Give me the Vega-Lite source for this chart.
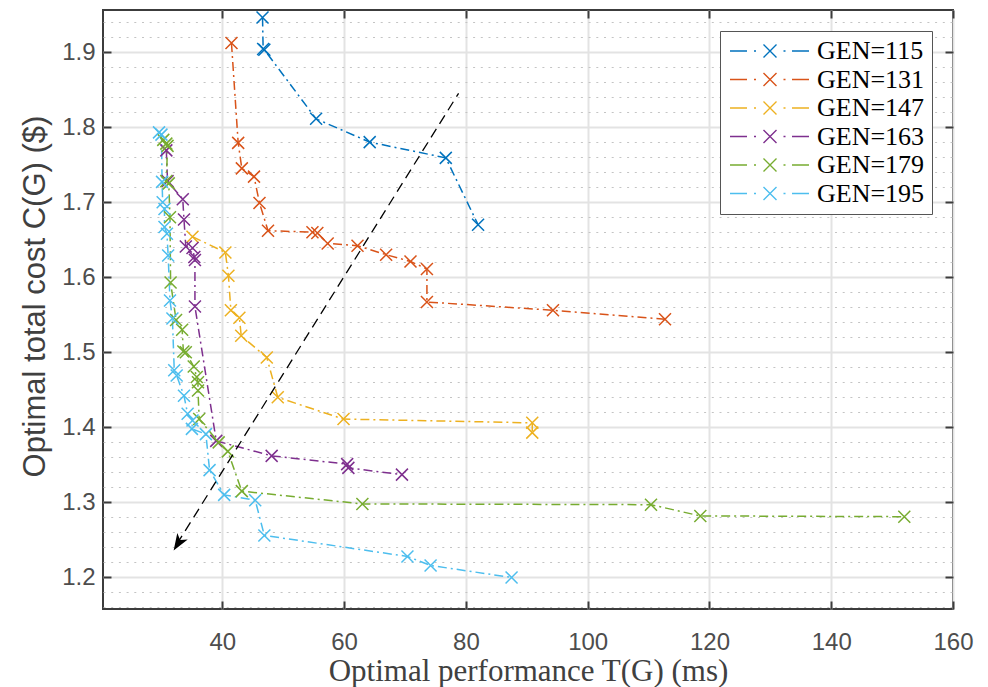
{
  "$schema": "https://vega.github.io/schema/vega-lite/v6.json",
  "width": 850,
  "height": 599,
  "autosize": {"type": "none"},
  "padding": {"left": 103, "top": 10, "right": 35, "bottom": 78},
  "background": "white",
  "config": {
    "view": {"stroke": "#3c3c3c", "strokeWidth": 2},
    "axis": {
      "labelFont": "Liberation Sans",
      "labelFontSize": 24,
      "labelColor": "#4d4d4d",
      "titleColor": "#404040",
      "titleFontWeight": "normal",
      "domain": false,
      "tickColor": "#3c3c3c",
      "tickWidth": 2,
      "tickSize": -8,
      "gridColor": "#e3e3e3",
      "gridWidth": 2,
      "labelFlush": false,
      "labelOverlap": false
    }
  },
  "datasets": {
    "series": [
      {"gen": "GEN=115", "i": 1, "x": 46.6, "y": 1.946},
      {"gen": "GEN=115", "i": 2, "x": 46.7, "y": 1.904},
      {"gen": "GEN=115", "i": 3, "x": 46.9, "y": 1.903},
      {"gen": "GEN=115", "i": 4, "x": 55.4, "y": 1.811},
      {"gen": "GEN=115", "i": 5, "x": 64.2, "y": 1.780},
      {"gen": "GEN=115", "i": 6, "x": 76.7, "y": 1.759},
      {"gen": "GEN=115", "i": 7, "x": 82.0, "y": 1.670},

      {"gen": "GEN=131", "i": 1, "x": 41.5, "y": 1.912},
      {"gen": "GEN=131", "i": 2, "x": 42.6, "y": 1.779},
      {"gen": "GEN=131", "i": 3, "x": 43.2, "y": 1.745},
      {"gen": "GEN=131", "i": 4, "x": 45.2, "y": 1.734},
      {"gen": "GEN=131", "i": 5, "x": 46.1, "y": 1.699},
      {"gen": "GEN=131", "i": 6, "x": 47.5, "y": 1.662},
      {"gen": "GEN=131", "i": 7, "x": 54.8, "y": 1.660},
      {"gen": "GEN=131", "i": 8, "x": 55.6, "y": 1.659},
      {"gen": "GEN=131", "i": 9, "x": 57.3, "y": 1.645},
      {"gen": "GEN=131", "i": 10, "x": 62.2, "y": 1.642},
      {"gen": "GEN=131", "i": 11, "x": 66.9, "y": 1.630},
      {"gen": "GEN=131", "i": 12, "x": 70.9, "y": 1.621},
      {"gen": "GEN=131", "i": 13, "x": 73.6, "y": 1.611},
      {"gen": "GEN=131", "i": 14, "x": 73.6, "y": 1.567},
      {"gen": "GEN=131", "i": 15, "x": 94.3, "y": 1.556},
      {"gen": "GEN=131", "i": 16, "x": 112.7, "y": 1.544},

      {"gen": "GEN=147", "i": 1, "x": 35.1, "y": 1.654},
      {"gen": "GEN=147", "i": 2, "x": 40.5, "y": 1.633},
      {"gen": "GEN=147", "i": 3, "x": 41.0, "y": 1.602},
      {"gen": "GEN=147", "i": 4, "x": 41.4, "y": 1.556},
      {"gen": "GEN=147", "i": 5, "x": 42.8, "y": 1.546},
      {"gen": "GEN=147", "i": 6, "x": 43.1, "y": 1.522},
      {"gen": "GEN=147", "i": 7, "x": 47.3, "y": 1.493},
      {"gen": "GEN=147", "i": 8, "x": 49.1, "y": 1.440},
      {"gen": "GEN=147", "i": 9, "x": 59.9, "y": 1.411},
      {"gen": "GEN=147", "i": 10, "x": 90.9, "y": 1.406},
      {"gen": "GEN=147", "i": 11, "x": 90.9, "y": 1.393},

      {"gen": "GEN=163", "i": 1, "x": 30.8, "y": 1.769},
      {"gen": "GEN=163", "i": 2, "x": 31.0, "y": 1.728},
      {"gen": "GEN=163", "i": 3, "x": 33.5, "y": 1.704},
      {"gen": "GEN=163", "i": 4, "x": 33.7, "y": 1.677},
      {"gen": "GEN=163", "i": 5, "x": 34.0, "y": 1.641},
      {"gen": "GEN=163", "i": 6, "x": 35.1, "y": 1.639},
      {"gen": "GEN=163", "i": 7, "x": 35.4, "y": 1.627},
      {"gen": "GEN=163", "i": 8, "x": 35.5, "y": 1.623},
      {"gen": "GEN=163", "i": 9, "x": 35.5, "y": 1.561},
      {"gen": "GEN=163", "i": 10, "x": 39.0, "y": 1.382},
      {"gen": "GEN=163", "i": 11, "x": 48.1, "y": 1.362},
      {"gen": "GEN=163", "i": 12, "x": 60.5, "y": 1.351},
      {"gen": "GEN=163", "i": 13, "x": 60.7, "y": 1.346},
      {"gen": "GEN=163", "i": 14, "x": 69.5, "y": 1.337},

      {"gen": "GEN=179", "i": 1, "x": 30.3, "y": 1.783},
      {"gen": "GEN=179", "i": 2, "x": 30.8, "y": 1.778},
      {"gen": "GEN=179", "i": 3, "x": 31.0, "y": 1.775},
      {"gen": "GEN=179", "i": 4, "x": 30.8, "y": 1.728},
      {"gen": "GEN=179", "i": 5, "x": 31.2, "y": 1.725},
      {"gen": "GEN=179", "i": 6, "x": 31.4, "y": 1.680},
      {"gen": "GEN=179", "i": 7, "x": 31.5, "y": 1.593},
      {"gen": "GEN=179", "i": 8, "x": 32.4, "y": 1.543},
      {"gen": "GEN=179", "i": 9, "x": 33.4, "y": 1.530},
      {"gen": "GEN=179", "i": 10, "x": 33.6, "y": 1.501},
      {"gen": "GEN=179", "i": 11, "x": 34.0, "y": 1.500},
      {"gen": "GEN=179", "i": 12, "x": 35.3, "y": 1.481},
      {"gen": "GEN=179", "i": 13, "x": 35.8, "y": 1.467},
      {"gen": "GEN=179", "i": 14, "x": 36.0, "y": 1.460},
      {"gen": "GEN=179", "i": 15, "x": 36.0, "y": 1.449},
      {"gen": "GEN=179", "i": 16, "x": 36.2, "y": 1.411},
      {"gen": "GEN=179", "i": 17, "x": 39.4, "y": 1.380},
      {"gen": "GEN=179", "i": 18, "x": 40.9, "y": 1.368},
      {"gen": "GEN=179", "i": 19, "x": 43.2, "y": 1.315},
      {"gen": "GEN=179", "i": 20, "x": 63.0, "y": 1.298},
      {"gen": "GEN=179", "i": 21, "x": 110.4, "y": 1.297},
      {"gen": "GEN=179", "i": 22, "x": 118.5, "y": 1.282},
      {"gen": "GEN=179", "i": 23, "x": 152.0, "y": 1.281},

      {"gen": "GEN=195", "i": 1, "x": 29.6, "y": 1.793},
      {"gen": "GEN=195", "i": 2, "x": 30.0, "y": 1.790},
      {"gen": "GEN=195", "i": 3, "x": 30.1, "y": 1.727},
      {"gen": "GEN=195", "i": 4, "x": 30.2, "y": 1.700},
      {"gen": "GEN=195", "i": 5, "x": 30.5, "y": 1.691},
      {"gen": "GEN=195", "i": 6, "x": 30.5, "y": 1.667},
      {"gen": "GEN=195", "i": 7, "x": 30.9, "y": 1.658},
      {"gen": "GEN=195", "i": 8, "x": 31.1, "y": 1.629},
      {"gen": "GEN=195", "i": 9, "x": 31.4, "y": 1.569},
      {"gen": "GEN=195", "i": 10, "x": 31.8, "y": 1.545},
      {"gen": "GEN=195", "i": 11, "x": 32.1, "y": 1.476},
      {"gen": "GEN=195", "i": 12, "x": 32.5, "y": 1.469},
      {"gen": "GEN=195", "i": 13, "x": 33.7, "y": 1.442},
      {"gen": "GEN=195", "i": 14, "x": 34.3, "y": 1.418},
      {"gen": "GEN=195", "i": 15, "x": 35.1, "y": 1.409},
      {"gen": "GEN=195", "i": 16, "x": 35.0, "y": 1.398},
      {"gen": "GEN=195", "i": 17, "x": 37.3, "y": 1.391},
      {"gen": "GEN=195", "i": 18, "x": 37.9, "y": 1.343},
      {"gen": "GEN=195", "i": 19, "x": 40.3, "y": 1.310},
      {"gen": "GEN=195", "i": 20, "x": 45.4, "y": 1.303},
      {"gen": "GEN=195", "i": 21, "x": 46.9, "y": 1.256},
      {"gen": "GEN=195", "i": 22, "x": 70.4, "y": 1.228},
      {"gen": "GEN=195", "i": 23, "x": 74.2, "y": 1.216},
      {"gen": "GEN=195", "i": 24, "x": 87.5, "y": 1.200}
    ],
    "arrowLine": [
      {"x": 78.8, "y": 1.845},
      {"x": 32.5, "y": 1.244}
    ],
    "arrowHead": [
      {"x": 32.0, "y": 1.236}
    ]
  },
  "layer": [
    {
      "data": {"name": "series"},
      "mark": {"type": "line", "strokeWidth": 1.5, "strokeDash": [9, 4, 2, 4]},
      "encoding": {
        "x": {
          "field": "x", "type": "quantitative",
          "scale": {"domain": [20.4, 160], "nice": false, "zero": false},
          "axis": {
            "orient": "bottom",
            "values": [40, 60, 80, 100, 120, 140, 160],
            "grid": true,
            "labelPadding": 29,
            "title": "Optimal performance T(G) (ms)",
            "titleFont": "Liberation Serif",
            "titleFontSize": 31,
            "titleBaseline": "alphabetic",
            "titleY": 71
          }
        },
        "y": {
          "field": "y", "type": "quantitative",
          "scale": {"domain": [1.158, 1.956], "nice": false, "zero": false},
          "axis": {
            "orient": "left",
            "values": [1.16, 1.18, 1.22, 1.24, 1.26, 1.28, 1.32, 1.34, 1.36, 1.38, 1.42, 1.44, 1.46, 1.48, 1.52, 1.54, 1.56, 1.58, 1.62, 1.64, 1.66, 1.68, 1.72, 1.74, 1.76, 1.78, 1.82, 1.84, 1.86, 1.88, 1.92, 1.94],
            "grid": true,
            "gridColor": "#c4c4c4",
            "gridWidth": 1,
            "gridDash": [2, 5.7],
            "labels": false,
            "ticks": false,
            "title": null
          }
        },
        "color": {
          "field": "gen", "type": "nominal",
          "scale": {
            "domain": ["GEN=115", "GEN=131", "GEN=147", "GEN=163", "GEN=179", "GEN=195"],
            "range": ["#0072BD", "#D95319", "#EDB120", "#7E2F8E", "#77AC30", "#4DBEEE"]
          },
          "legend": {
            "orient": "none",
            "legendX": 617,
            "legendY": 21,
            "title": null,
            "symbolType": "M-4,0L-2.3,0M-1.6,0L-1.4,0M-0.65,-0.65L0.65,0.65M-0.65,0.65L0.65,-0.65M1.35,0L1.55,0M2.2,0L3.9,0",
            "symbolSize": 400,
            "symbolStrokeWidth": 1.4,
            "symbolFillColor": "transparent",
            "symbolOffset": 30,
            "labelOffset": 34,
            "labelFont": "Liberation Serif",
            "labelFontSize": 26,
            "labelColor": "#000000",
            "rowPadding": 2.5,
            "padding": 7,
            "strokeColor": "#555555",
            "fillColor": "white"
          }
        },
        "order": {"field": "i", "type": "quantitative"}
      }
    },
    {
      "data": {"name": "series"},
      "mark": {"type": "point", "shape": "M-1,-1L1,1M-1,1L1,-1", "size": 144, "filled": false, "strokeWidth": 1.5, "opacity": 1},
      "encoding": {
        "x": {
          "field": "x", "type": "quantitative",
          "scale": {"domain": [20.4, 160], "nice": false, "zero": false},
          "axis": {
            "orient": "top",
            "values": [40, 60, 80, 100, 120, 140, 160],
            "grid": false,
            "labels": false,
            "title": null
          }
        },
        "y": {
          "field": "y", "type": "quantitative",
          "scale": {"domain": [1.158, 1.956], "nice": false, "zero": false},
          "axis": {
            "orient": "left",
            "values": [1.2, 1.3, 1.4, 1.5, 1.6, 1.7, 1.8, 1.9],
            "format": ".1f",
            "grid": true,
            "labelPadding": 16,
            "title": "Optimal total cost C(G) ($)",
            "titleFont": "Liberation Sans",
            "titleFontSize": 31,
            "titleBaseline": "alphabetic",
            "titleX": -59,
            "titleY": 286
          }
        },
        "color": {
          "field": "gen", "type": "nominal",
          "scale": {
            "domain": ["GEN=115", "GEN=131", "GEN=147", "GEN=163", "GEN=179", "GEN=195"],
            "range": ["#0072BD", "#D95319", "#EDB120", "#7E2F8E", "#77AC30", "#4DBEEE"]
          },
          "legend": {
            "orient": "none",
            "legendX": 617,
            "legendY": 21,
            "title": null,
            "symbolType": "M-4,0L-2.3,0M-1.6,0L-1.4,0M-0.65,-0.65L0.65,0.65M-0.65,0.65L0.65,-0.65M1.35,0L1.55,0M2.2,0L3.9,0",
            "symbolSize": 400,
            "symbolStrokeWidth": 1.4,
            "symbolFillColor": "transparent",
            "symbolOffset": 30,
            "labelOffset": 34,
            "labelFont": "Liberation Serif",
            "labelFontSize": 26,
            "labelColor": "#000000",
            "rowPadding": 2.5,
            "padding": 7,
            "strokeColor": "#555555",
            "fillColor": "white"
          }
        }
      }
    },
    {
      "data": {"name": "arrowLine"},
      "mark": {"type": "line", "color": "#000000", "strokeWidth": 1.3, "strokeDash": [10, 6]},
      "encoding": {
        "x": {"field": "x", "type": "quantitative", "scale": {"domain": [20.4, 160], "nice": false, "zero": false}, "axis": null},
        "y": {
          "field": "y", "type": "quantitative",
          "scale": {"domain": [1.158, 1.956], "nice": false, "zero": false},
          "axis": {
            "orient": "right",
            "values": [1.2, 1.3, 1.4, 1.5, 1.6, 1.7, 1.8, 1.9],
            "grid": false,
            "labels": false,
            "title": null
          }
        }
      }
    },
    {
      "data": {"name": "arrowHead"},
      "mark": {"type": "point", "shape": "M0,0L-0.55,-1.5L0,-1.1L0.55,-1.5Z", "size": 500, "filled": true, "color": "#000000", "opacity": 1, "angle": 32},
      "encoding": {
        "x": {"field": "x", "type": "quantitative", "scale": {"domain": [20.4, 160], "nice": false, "zero": false}, "axis": null},
        "y": {"field": "y", "type": "quantitative", "scale": {"domain": [1.158, 1.956], "nice": false, "zero": false}, "axis": null}
      }
    }
  ],
  "resolve": {"axis": {"x": "independent", "y": "independent"}}
}
